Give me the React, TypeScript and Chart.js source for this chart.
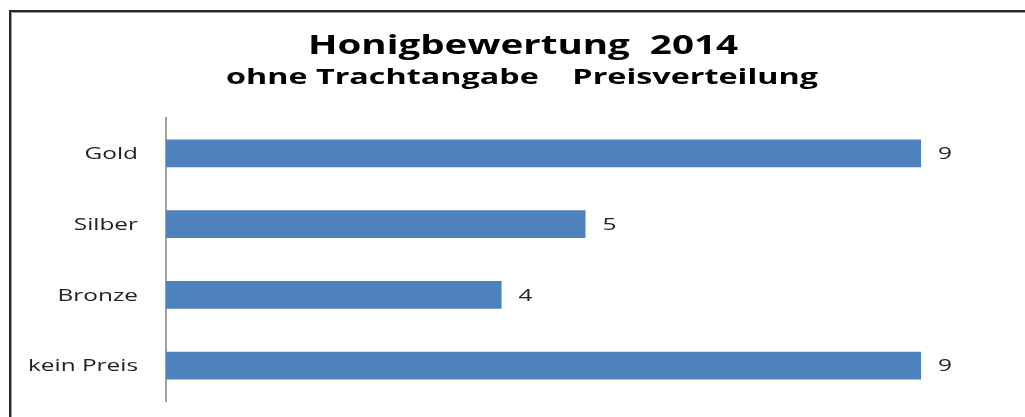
import React, { useEffect, useRef } from "react";
import { Chart, registerables } from "chart.js";

Chart.register(...registerables);

const categories = ["Gold", "Silber", "Bronze", "kein Preis"];
const values = [9, 5, 4, 9];
const titleLine1 = "Honigbewertung  2014";
const titleLine2 = "ohne Trachtangabe    Preisverteilung";

const FONT = "'Open Sans', 'DejaVu Sans', sans-serif";

const decorPlugin = {
  id: "decor",
  afterDraw(chart: any) {
    const ctx = chart.ctx as CanvasRenderingContext2D;
    ctx.save();
    // frame
    ctx.fillStyle = "#2a2a2a";
    ctx.fillRect(9, 10, 2, 417);
    ctx.fillRect(9, 10, 1016, 2);
    ctx.fillStyle = "#9a9a9a";
    ctx.fillRect(11, 12, 1, 417);
    ctx.fillRect(11, 12, 1014, 1);

    const drawScaled = (
      text: string,
      font: string,
      x: number,
      y: number,
      sx: number,
      align: CanvasTextAlign,
      baseline: CanvasTextBaseline,
      color: string
    ) => {
      ctx.save();
      ctx.font = font;
      ctx.translate(x, y);
      ctx.scale(sx, 1);
      ctx.textAlign = align;
      ctx.textBaseline = baseline;
      ctx.fillStyle = color;
      ctx.fillText(text, 0, 0);
      ctx.restore();
    };

    const fit = (text: string, font: string, width: number) => {
      ctx.font = font;
      return width / ctx.measureText(text).width;
    };
    const f1 = `bold 27px ${FONT}`;
    const f2 = `bold 21px ${FONT}`;
    drawScaled(titleLine1, f1, 523, 54, fit(titleLine1, f1, 430), "center", "alphabetic", "#000");
    drawScaled(titleLine2, f2, 522, 84, fit(titleLine2, f2, 592), "center", "alphabetic", "#000");

    // category labels
    const yScale = chart.scales.y;
    const fl = `17px ${FONT}`;
    const sl = fit("kein Preis", fl, 110);
    categories.forEach((c, i) => {
      const y = yScale.getPixelForValue(i);
      drawScaled(c, fl, 138, y + 1, sl, "right", "middle", "#222");
    });

    // value labels
    const meta = chart.getDatasetMeta(0);
    meta.data.forEach((bar: any, i: number) => {
      drawScaled(String(values[i]), fl, bar.x + 17, bar.y + 1, sl, "left", "middle", "#222");
    });
    ctx.restore();
  },
};

export default function App() {
  const ref = useRef<HTMLCanvasElement>(null);
  useEffect(() => {
    if (!ref.current) return;
    const chart = new Chart(ref.current, {
      type: "bar",
      data: {
        labels: categories,
        datasets: [
          {
            data: values,
            backgroundColor: "#4F81BD",
            borderWidth: 0,
            categoryPercentage: 1,
            barPercentage: 0.39,
          },
        ],
      },
      options: {
        indexAxis: "y",
        responsive: false,
        animation: false,
        layout: { autoPadding: false, padding: { left: 0, right: 20, top: 118, bottom: 16 } },
        plugins: {
          legend: { display: false },
          tooltip: { enabled: false },
          title: { display: false },
        },
        scales: {
          x: { display: false, min: 0, max: 10 },
          y: {
            afterFit(scale: any) {
              scale.width = 166;
            },
            grid: { display: false, drawTicks: false },
            border: { display: true, color: "#a0a0a0", width: 2 },
            ticks: { display: false },
          },
        },
      },
      plugins: [decorPlugin],
    });
    return () => chart.destroy();
  }, []);
  return (
    <div style={{ position: "fixed", left: 0, top: 0, width: 1025, height: 417, background: "#fff" }}>
      <canvas ref={ref} width={1025} height={417} style={{ width: 1025, height: 417, display: "block" }} />
    </div>
  );
}
